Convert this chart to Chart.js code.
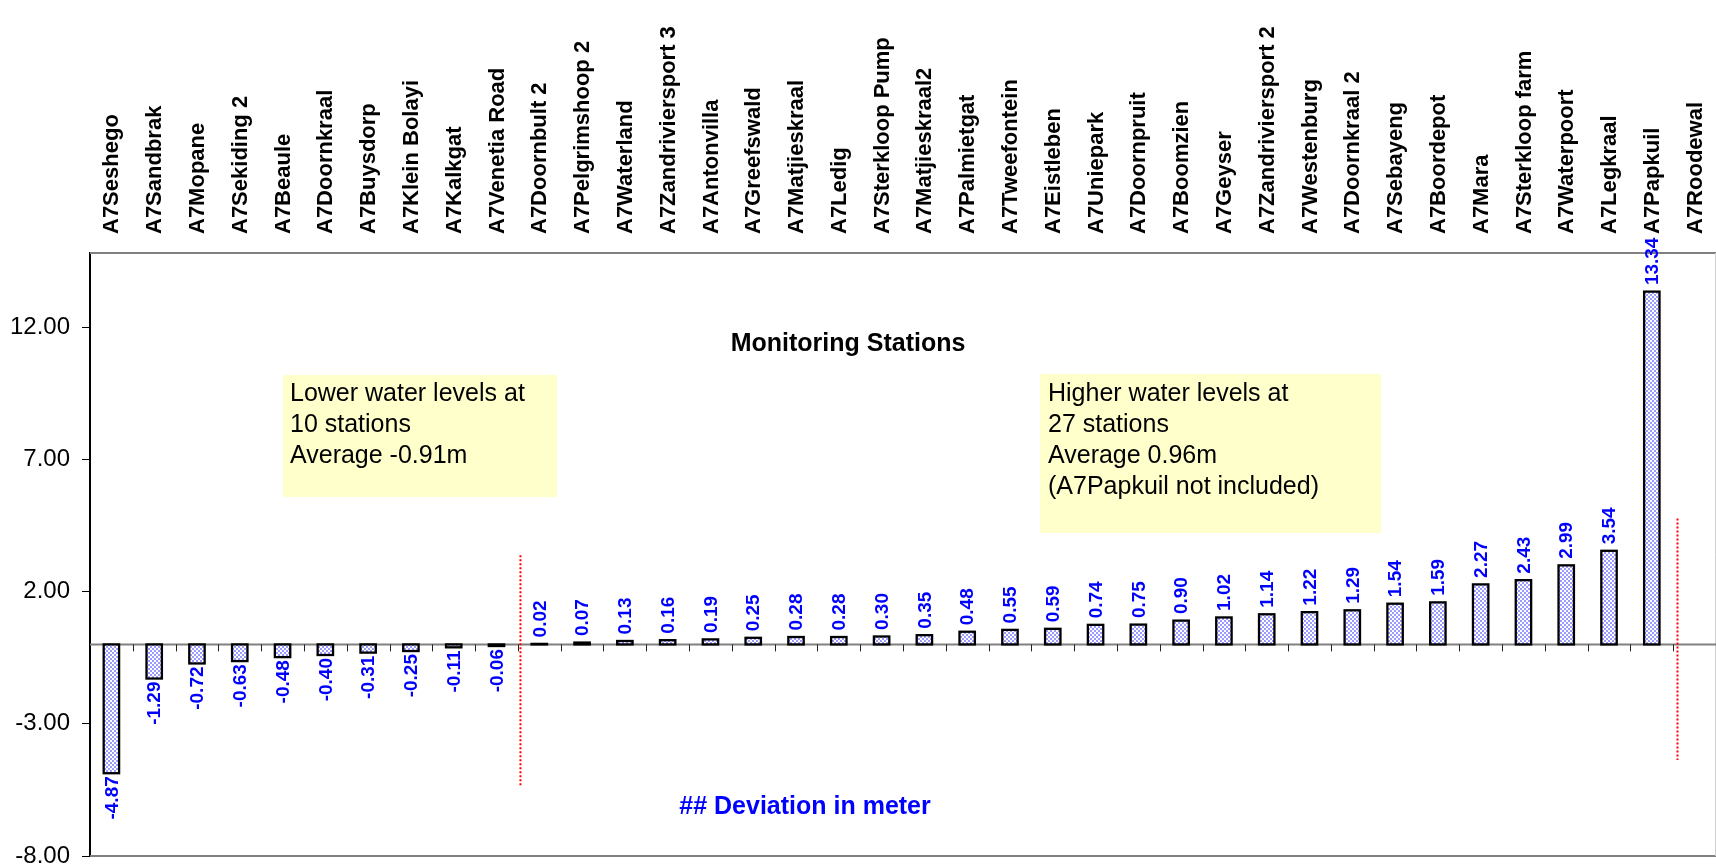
<!DOCTYPE html>
<html>
<head>
<meta charset="utf-8">
<script src="https://cdn.jsdelivr.net/npm/chart.js@4/dist/chart.umd.min.js"></script>
<style>
html,body{margin:0;padding:0;background:#fff;}
#wrap{width:1716px;height:867px;position:relative;}
canvas{display:block;}
</style>
</head>
<body>
<div id="wrap"><canvas id="c" width="1716" height="867"></canvas></div>
<script>
// ---------- data ----------
const stations = [
  "A7Seshego","A7Sandbrak","A7Mopane","A7Sekiding 2","A7Beaule","A7Doornkraal",
  "A7Buysdorp","A7Klein Bolayi","A7Kalkgat","A7Venetia Road","A7Doornbult 2",
  "A7Pelgrimshoop 2","A7Waterland","A7Zandriviersport 3","A7Antonvilla","A7Greefswald",
  "A7Matjieskraal","A7Ledig","A7Sterkloop Pump","A7Matjieskraal2","A7Palmietgat",
  "A7Tweefontein","A7Eistleben","A7Uniepark","A7Doornpruit","A7Boomzien","A7Geyser",
  "A7Zandriviersport 2","A7Westenburg","A7Doornkraal 2","A7Sebayeng","A7Boordepot",
  "A7Mara","A7Sterkloop farm","A7Waterpoort","A7Legkraal","A7Papkuil","A7Roodewal"
];
const deviations = [
  -4.87,-1.29,-0.72,-0.63,-0.48,-0.40,-0.31,-0.25,-0.11,-0.06,
  0.02,0.07,0.13,0.16,0.19,0.25,0.28,0.28,0.30,0.35,0.48,0.55,0.59,0.74,0.75,
  0.90,1.02,1.14,1.22,1.29,1.54,1.59,2.27,2.43,2.99,3.54,13.34,null
];
const yTickValues = [-8,-3,2,7,12];
const yMin = -8;
const yMax = 14.8;
const chartTitle = "Monitoring Stations";
const axisNote = "## Deviation in meter";
const lowerBoxLines = ["Lower water levels at","10 stations","Average -0.91m"];
const higherBoxLines = ["Higher water levels at","27 stations","Average 0.96m","(A7Papkuil not included)"];
// divider lines: [category position, from value, to value]
const dividers = [[9.56, 3.37, -5.35],[36.6, 4.76, -4.37]];

// ---------- styling ----------
const FONT = '"Liberation Sans", Arial, Helvetica, sans-serif';
const canvas = document.getElementById('c');
const mainCtx = canvas.getContext('2d');

function makePattern(){
  const p = document.createElement('canvas');
  p.width = 4; p.height = 4;
  const c = p.getContext('2d');
  c.fillStyle = '#ffffff'; c.fillRect(0,0,4,4);
  c.fillStyle = '#9a9aff'; c.fillRect(0,0,2,2); c.fillRect(2,2,2,2);
  return mainCtx.createPattern(p,'repeat');
}

const decorPlugin = {
  id: 'decor',
  beforeDatasetsDraw(chart){
    const ctx = chart.ctx, a = chart.chartArea;
    const ys = chart.scales.y, xs = chart.scales.x;
    ctx.save();
    // yellow boxes
    ctx.fillStyle = '#ffffcc';
    ctx.fillRect(283, 375, 274, 122);
    ctx.fillRect(1040, 374, 341, 159);
    ctx.fillStyle = '#000';
    ctx.font = '25px ' + FONT;
    ctx.textAlign = 'left';
    ctx.textBaseline = 'alphabetic';
    lowerBoxLines.forEach((t,i)=>ctx.fillText(t, 290, 401 + i*31));
    higherBoxLines.forEach((t,i)=>ctx.fillText(t, 1048, 401 + i*31));
    // title
    ctx.font = 'bold 25px ' + FONT;
    ctx.textAlign = 'center';
    ctx.fillText(chartTitle, 848, 351);
    // axis note
    ctx.fillStyle = '#0000ff';
    ctx.fillText(axisNote, 805, 814);
    // category labels (top)
    ctx.fillStyle = '#000';
    ctx.font = 'bold 22px ' + FONT;
    stations.forEach((s,i)=>{
      ctx.save();
      ctx.translate(xs.getPixelForValue(i) + 1, a.top - 19);
      ctx.rotate(-Math.PI/2);
      ctx.textAlign = 'left';
      ctx.textBaseline = 'middle';
      ctx.fillText(s, 0, 0);
      ctx.restore();
    });
    // top/bottom plot border
    ctx.strokeStyle = '#808080';
    ctx.lineWidth = 2;
    ctx.beginPath();
    ctx.moveTo(a.left, a.top); ctx.lineTo(a.right, a.top);
    ctx.moveTo(a.left, a.bottom); ctx.lineTo(a.right, a.bottom);
    ctx.stroke();
    ctx.strokeStyle = '#d0d0d0';
    ctx.lineWidth = 1;
    ctx.beginPath();
    ctx.moveTo(a.right-0.5, a.top); ctx.lineTo(a.right-0.5, a.bottom);
    ctx.stroke();
    // zero line
    const y0 = ys.getPixelForValue(0);
    ctx.strokeStyle = '#808080';
    ctx.lineWidth = 2;
    ctx.beginPath();
    ctx.moveTo(a.left, y0); ctx.lineTo(a.right, y0);
    ctx.stroke();
    // category tick marks on zero line
    ctx.strokeStyle = '#222';
    ctx.lineWidth = 1;
    ctx.beginPath();
    for (let k = 1; k < stations.length; k++){
      const x = Math.round(xs.getPixelForValue(k - 0.5)) + 0.5;
      ctx.moveTo(x, y0); ctx.lineTo(x, y0 + 7);
    }
    ctx.stroke();
    ctx.restore();
  },
  afterDatasetsDraw(chart){
    const ctx = chart.ctx;
    const xs = chart.scales.x, ys = chart.scales.y;
    const meta = chart.getDatasetMeta(0);
    ctx.save();
    meta.data.forEach((bar,i)=>{
      const v = deviations[i];
      if (v === null || v === undefined) return;
      const p = bar.getProps(['x','y','base','width'], true);
      ctx.strokeStyle = '#000';
      ctx.lineWidth = 2.3;
      ctx.strokeRect(p.x - p.width/2, Math.min(p.y,p.base), p.width, Math.abs(p.base - p.y));
      ctx.save();
      ctx.translate(p.x, v >= 0 ? p.y - 6.5 : p.y + 3);
      ctx.rotate(-Math.PI/2);
      ctx.textAlign = v >= 0 ? 'left' : 'right';
      ctx.textBaseline = 'middle';
      ctx.fillStyle = '#0000ff';
      ctx.font = 'bold 19px ' + FONT;
      ctx.fillText(v.toFixed(2), 0, 1);
      ctx.restore();
    });
    // red dotted dividers
    ctx.strokeStyle = '#ff0000';
    ctx.lineWidth = 2;
    ctx.setLineDash([2,2]);
    dividers.forEach(d=>{
      const x = xs.getPixelForValue(d[0]);
      ctx.beginPath();
      ctx.moveTo(x, ys.getPixelForValue(d[1]));
      ctx.lineTo(x, ys.getPixelForValue(d[2]));
      ctx.stroke();
    });
    ctx.restore();
  }
};

new Chart(canvas, {
  type: 'bar',
  data: {
    labels: stations,
    datasets: [{
      data: deviations,
      backgroundColor: makePattern(),
      borderWidth: 0,
      categoryPercentage: 1,
      barPercentage: 0.36
    }]
  },
  options: {
    responsive: false,
    animation: false,
    devicePixelRatio: 1,
    layout: { padding: { top: 0, right: 0, bottom: 11, left: 0 } },
    plugins: { legend: { display: false }, tooltip: { enabled: false }, title: { display: false } },
    scales: {
      x: {
        type: 'category',
        position: 'top',
        offset: true,
        grid: { display: false, drawTicks: false },
        border: { display: false },
        ticks: { display: false },
        afterFit(scale){ scale.height = 253; scale.paddingLeft = 0; scale.paddingRight = 0; }
      },
      y: {
        min: yMin,
        max: yMax,
        grid: { display: true, drawOnChartArea: false, drawTicks: true, tickLength: 8, color: '#000', lineWidth: 1 },
        border: { display: true, color: '#000', width: 2 },
        ticks: {
          padding: 12,
          color: '#000',
          font: { family: FONT, size: 24 },
          callback: (v)=>Number(v).toFixed(2)
        },
        afterBuildTicks(scale){ scale.ticks = yTickValues.map(v=>({value:v})); },
        afterFit(scale){ scale.width = 90; scale.paddingTop = 0; scale.paddingBottom = 0; }
      }
    }
  },
  plugins: [decorPlugin]
});
</script>
</body>
</html>
